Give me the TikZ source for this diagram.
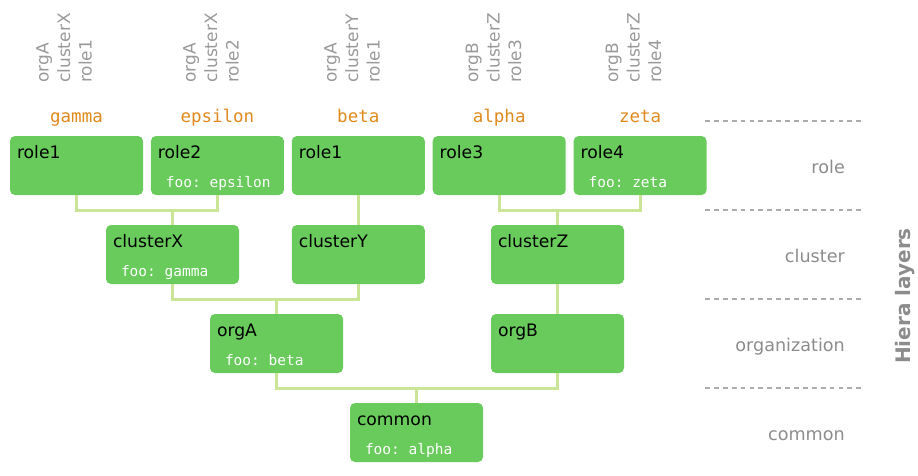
\documentclass[tikz,border=0pt]{standalone}
\usepackage{fontspec}
\setmainfont{DejaVu Sans}
\setmonofont{DejaVu Sans Mono}
\usetikzlibrary{positioning}
\definecolor{boxgreen}{HTML}{69CB5C}
\definecolor{linkgreen}{HTML}{CBE596}
\definecolor{keyorange}{HTML}{E0891E}
\definecolor{labelgray}{HTML}{999999}
\tikzset{
  node distance=7.5pt,
  layer/.style={fill=boxgreen, rounded corners=5pt, minimum width=133pt, minimum height=59pt, inner sep=0pt},
  title/.style={anchor=base west, inner sep=0pt, xshift=7pt, yshift=-23pt, font=\fontsize{17.2}{20}\selectfont},
  foo/.style={anchor=base west, inner sep=0pt, xshift=15pt, yshift=8pt, text=white, font=\ttfamily\fontsize{14.5}{17}\selectfont},
  key/.style={anchor=base, inner sep=0pt, text=keyorange, font=\ttfamily\fontsize{17.5}{20}\selectfont},
  lookup/.style={anchor=west, rotate=90, inner sep=0pt, align=left, text=labelgray, font=\fontsize{17}{21.5}\selectfont},
  link/.style={draw=linkgreen, line width=3pt},
  sep/.style={draw=gray!65, line width=1.5pt, dash pattern=on 4.8pt off 4.1pt},
  layername/.style={anchor=base east, inner sep=0pt, text=gray!90, font=\fontsize{17.6}{20}\selectfont},
}

\begin{document}
\begin{tikzpicture}[x=1pt, y=-1pt]
		\useasboundingbox (0,0) rectangle (918,475);

		% roles
		\node[layer] (r1a) at (76.5,165.5) {};
		\node[layer, right=of r1a] (r2) {};
		\node[layer, right=of r2] (r1b) {};
		\node[layer, right=of r1b] (r3) {};
		\node[layer, right=of r3] (r4) {};

		% clusters
		\node[layer] (cX) at (172.5,254.5) {};
		\node[layer] (cY) at (r1b |- cX) {};
		\node[layer] (cZ) at (557.5,254.5) {};

		% organizations
		\node[layer] (oA) at (276.5,343.5) {};
		\node[layer] (oB) at (cZ |- oA) {};

		% common
		\node[layer] (com) at (416.5,432.5) {};

		% box texts
		\node[title] at (r1a.north west) {role1};
		\node[title] at (r2.north west) {role2};
		\node[foo] at (r2.south west) {foo: epsilon};
		\node[title] at (r1b.north west) {role1};
		\node[title] at (r3.north west) {role3};
		\node[title] at (r4.north west) {role4};
		\node[foo] at (r4.south west) {foo: zeta};
		\node[title] at (cX.north west) {clusterX};
		\node[foo] at (cX.south west) {foo: gamma};
		\node[title] at (cY.north west) {clusterY};
		\node[title] at (cZ.north west) {clusterZ};
		\node[title] at (oA.north west) {orgA};
		\node[foo] at (oA.south west) {foo: beta};
		\node[title] at (oB.north west) {orgB};
		\node[title] at (com.north west) {common};
		\node[foo] at (com.south west) {foo: alpha};

		% keys above the roles
		\node[key] (k1) at (r1a.center |- 0,122) {gamma};
		\node[key] (k2) at (r2.center |- 0,122) {epsilon};
		\node[key] (k3) at (r1b.center |- 0,122) {beta};
		\node[key] (k4) at (r3.center |- 0,122) {alpha};
		\node[key] (k5) at (r4.center |- 0,122) {zeta};

		% lookup paths
		\node[lookup] (p1) at (64,83) {orgA\\clusterX\\role1};
		\node[lookup] (p2) at (211,83) {orgA\\clusterX\\role2};
		\node[lookup] (p3) at (352,83) {orgA\\clusterY\\role1};
		\node[lookup] (p4) at (493.5,83) {orgB\\clusterZ\\role3};
		\node[lookup] (p5) at (633.5,83) {orgB\\clusterZ\\role4};

		% links
		\draw[link] (r1a.south) -- ++(0,15) -| (cX.north);
		\draw[link] (r2.south) -- ++(0,15) -| (cX.north);
		\draw[link] (r1b.south) -- (cY.north);
		\draw[link] (r3.south) -- ++(0,15) -| (cZ.north);
		\draw[link] (r4.south) -- ++(0,15) -| (cZ.north);
		\draw[link] (cX.south) -- ++(0,15) -| (oA.north);
		\draw[link] (cY.south) -- ++(0,15) -| (oA.north);
		\draw[link] (cZ.south) -- (oB.north);
		\draw[link] (oA.south) -- ++(0,15) -| (com.north);
		\draw[link] (oB.south) -- ++(0,15) -| (com.north);

		% layer separators
		\coordinate (s1a) at (705,121); \coordinate (s1b) at (862,121);
		\coordinate (s2a) at (705,210); \coordinate (s2b) at (862,210);
		\coordinate (s3a) at (705,299); \coordinate (s3b) at (862,299);
		\coordinate (s4a) at (705,388); \coordinate (s4b) at (862,388);
		\draw[sep] (s1a) -- (s1b);
		\draw[sep] (s2a) -- (s2b);
		\draw[sep] (s3a) -- (s3b);
		\draw[sep] (s4a) -- (s4b);

		% layer names
		\node[layername] (lrole) at (845,173) {role};
		\node[layername] (lcluster) at (845,262) {cluster};
		\node[layername] (lorg) at (845,351) {organization};
		\node[layername] (lcommon) at (845,440) {common};
		\node[rotate=90, text=gray!90, font=\bfseries\fontsize{20}{24}\selectfont] (hiera) at (905,296) {Hiera layers};

	\end{tikzpicture}
\end{document}
